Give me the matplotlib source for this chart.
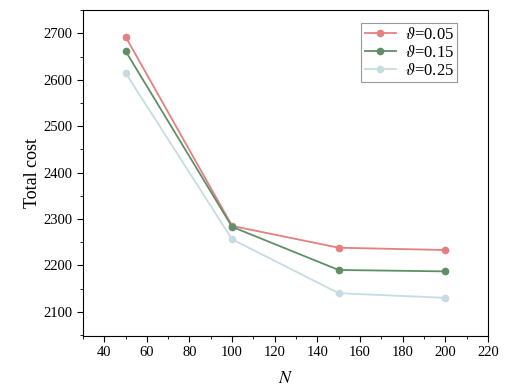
import numpy as np
import matplotlib.pyplot as plt
from matplotlib.ticker import MultipleLocator

plt.rcParams["font.family"] = "Liberation Serif"
plt.rcParams["mathtext.fontset"] = 'stix'

# data
N = [50, 100, 150, 200]
cost_005 = [2693, 2285, 2238, 2233]
cost_015 = [2662, 2283, 2190, 2187]
cost_025 = [2615, 2256, 2140, 2130]
labels = [r"$\vartheta$=0.05", r"$\vartheta$=0.15", r"$\vartheta$=0.25"]
colours = ['#e57f80', '#5f8f66', '#c6dce2']

fig = plt.figure(figsize=(5.28, 3.91), dpi=100)
ax = fig.add_axes([0.157, 0.141, 0.767, 0.833])

for ys, lab, c in zip([cost_005, cost_015, cost_025], labels, colours):
    ax.plot(N, ys, '-o', color=c, lw=1.3, ms=4.5, label=lab)

ax.set_xlim(30, 220)
ax.set_ylim(2048, 2750)
ax.xaxis.set_major_locator(MultipleLocator(20))
ax.xaxis.set_minor_locator(MultipleLocator(10))
ax.yaxis.set_major_locator(MultipleLocator(100))
ax.yaxis.set_minor_locator(MultipleLocator(50))
ax.tick_params(which='major', direction='out', length=4, labelsize=10.5)
ax.tick_params(which='minor', direction='out', length=2.5)
ax.set_xlabel('$N$', fontsize=13, labelpad=8)
ax.set_ylabel('Total cost', fontsize=13, labelpad=2)

leg = ax.legend(loc='upper right', bbox_to_anchor=(0.924, 0.96), fontsize=12,
                fancybox=False, edgecolor='#999999', framealpha=1,
                handlelength=1.9, handletextpad=0.5, labelspacing=0.12,
                borderpad=0.2, borderaxespad=0)
leg.get_frame().set_linewidth(0.8)

fig.savefig('out.png', dpi=100)
